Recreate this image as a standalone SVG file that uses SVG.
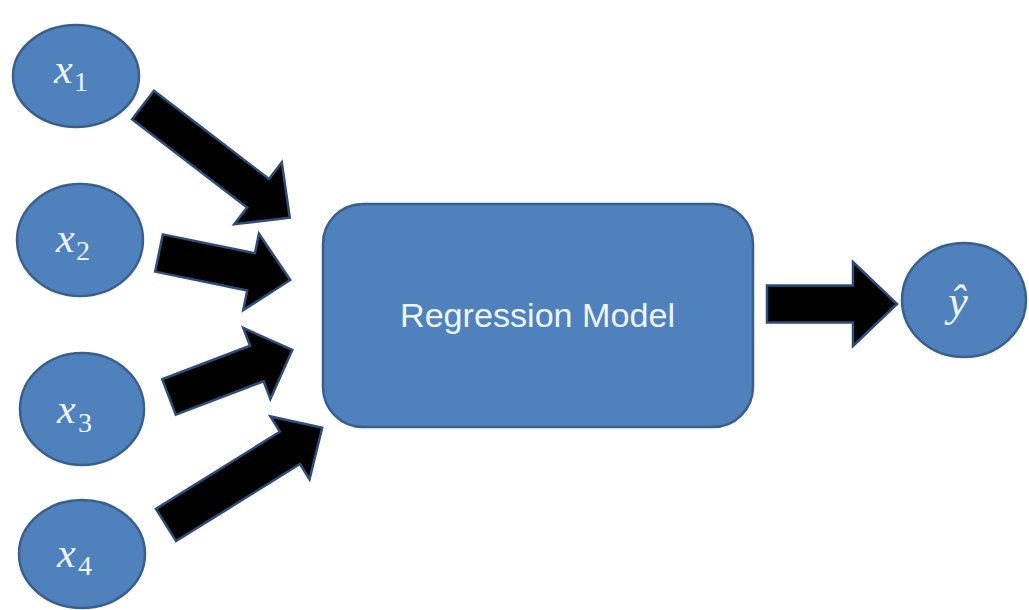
<svg xmlns="http://www.w3.org/2000/svg" width="1029" height="610" viewBox="0 0 1029 610">
  <style>
    .node { fill: #4F81BD; stroke: #3A5F8C; stroke-width: 2.5; }
    .arrow { fill: #000000; stroke: #2E4D78; stroke-width: 2.5; stroke-linejoin: miter; }
    .math { font-family: "Liberation Serif", "DejaVu Serif", serif; font-style: italic; fill: #EEF4FB; }
    .sub { font-family: "Liberation Serif", "DejaVu Serif", serif; font-style: normal; fill: #EEF4FB; }
    .label { font-family: "Liberation Sans", "Open Sans", sans-serif; fill: #EEF4FB; }
  </style>
  <rect x="0" y="0" width="1029" height="610" fill="#FFFFFF"/>

  <g id="connectors">
    <path class="arrow" transform="translate(143,105) rotate(37.5)" d="M0,-18 H145 V-39 L185,0 L145,39 V18 H0 Z"/>
    <path class="arrow" transform="translate(159,253) rotate(11.6)" d="M0,-19 H94 V-39 L134,0 L94,39 V19 H0 Z"/>
    <path class="arrow" transform="translate(169,397) rotate(-20.9)" d="M0,-19 H94 V-38 L132,0 L94,38 V19 H0 Z"/>
    <path class="arrow" transform="translate(166,525) rotate(-31.9)" d="M0,-19 H146 V-37 L184,0 L146,37 V19 H0 Z"/>
    <path class="arrow" transform="translate(767,304)" d="M0,-18.5 H86 V-42 L130,0 L86,42 V18.5 H0 Z"/>
  </g>

  <g id="node-x1">
    <ellipse class="node" cx="76" cy="76" rx="63" ry="51"/>
    <text class="math" x="54" y="83" font-size="42">x</text>
    <text class="sub" x="74" y="91" font-size="28">1</text>
  </g>
  <g id="node-x2">
    <ellipse class="node" cx="80" cy="240" rx="63" ry="56"/>
    <text class="math" x="56" y="252" font-size="42">x</text>
    <text class="sub" x="76" y="260" font-size="28">2</text>
  </g>
  <g id="node-x3">
    <ellipse class="node" cx="82" cy="409" rx="62" ry="56"/>
    <text class="math" x="57" y="423" font-size="42">x</text>
    <text class="sub" x="78" y="432" font-size="28">3</text>
  </g>
  <g id="node-x4">
    <ellipse class="node" cx="82" cy="554" rx="63" ry="54"/>
    <text class="math" x="57" y="567" font-size="42">x</text>
    <text class="sub" x="78" y="575" font-size="28">4</text>
  </g>

  <g id="node-model">
    <rect class="node" x="323" y="204" width="430" height="223" rx="40" ry="40"/>
    <text class="label" x="400" y="327" font-size="34" textLength="275" lengthAdjust="spacingAndGlyphs">Regression Model</text>
  </g>

  <g id="node-yhat">
    <ellipse class="node" cx="964" cy="300" rx="62" ry="57"/>
    <text class="math" x="958" y="316" font-size="44" text-anchor="middle">ŷ</text>
  </g>
</svg>
